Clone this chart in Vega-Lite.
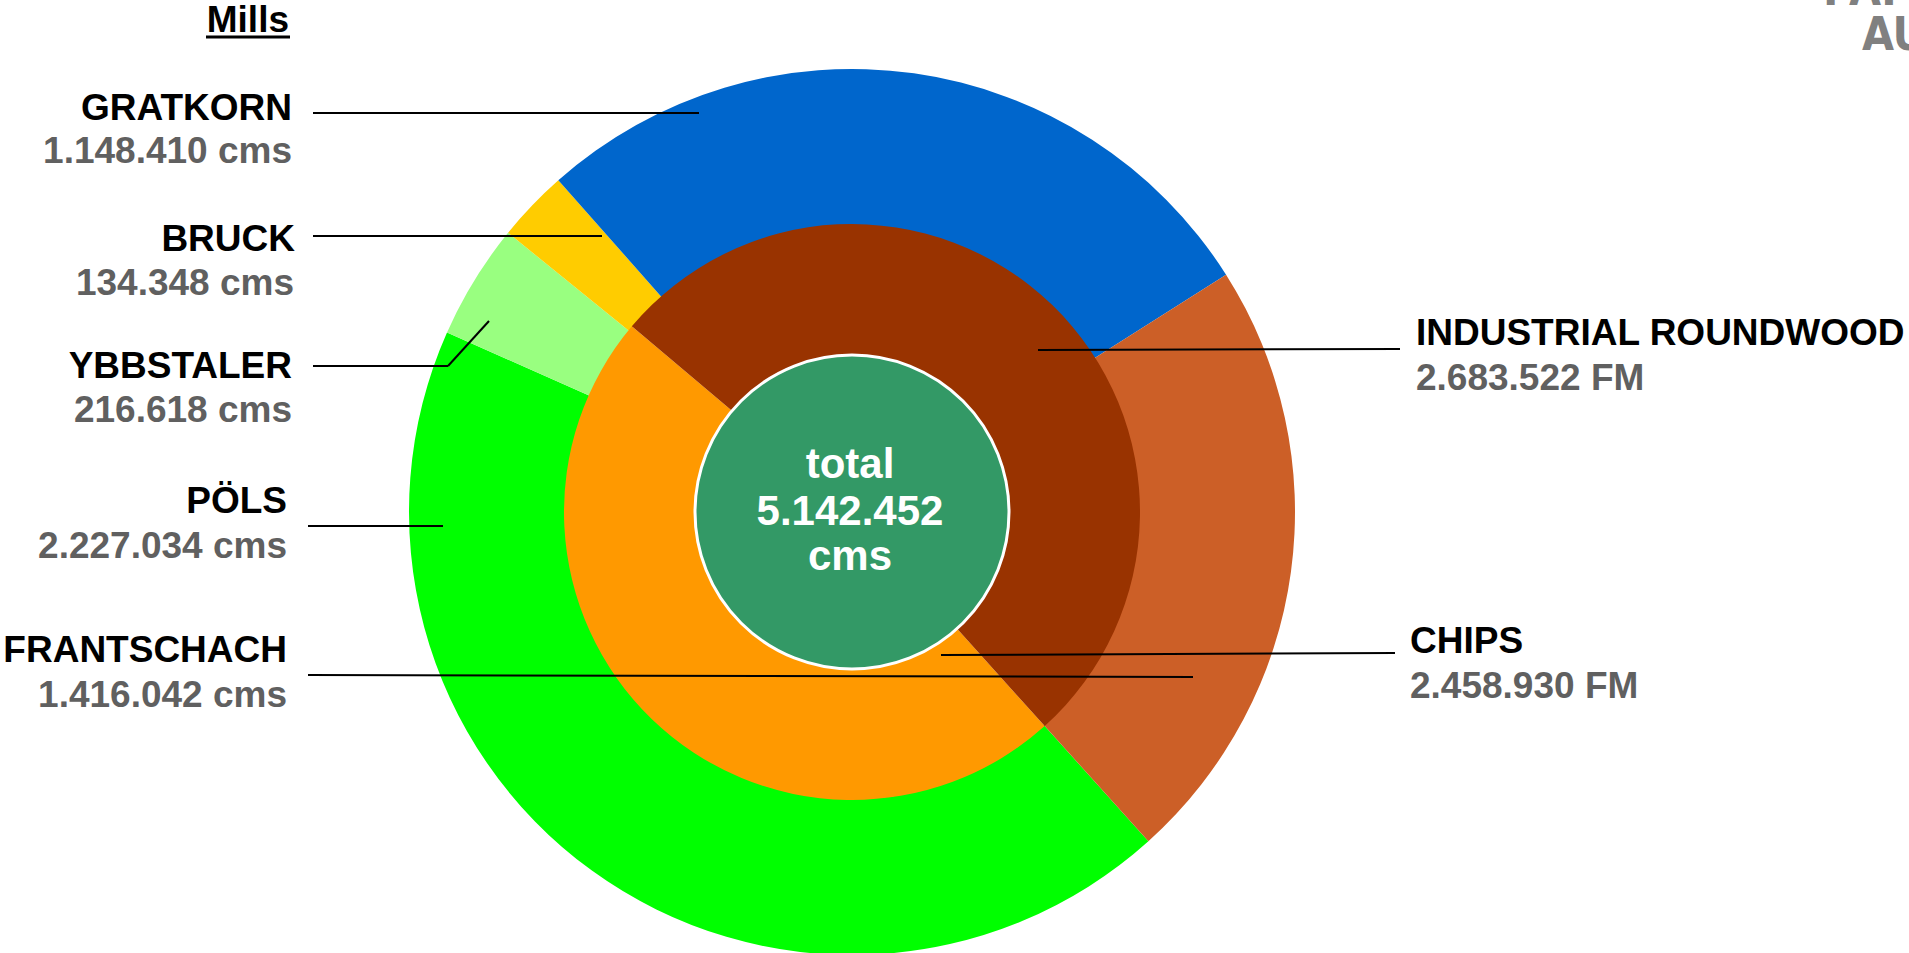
{
  "$schema": "https://vega.github.io/schema/vega-lite/v6.json",
  "width": 1909,
  "height": 953,
  "autosize": "none",
  "padding": 0,
  "background": "white",
  "config": {
    "view": {"stroke": null},
    "text": {"font": "Liberation Sans", "fontWeight": "bold", "fontSize": 37, "baseline": "alphabetic"}
  },
  "datasets": {
    "mills": [
      {"mill": "PÖLS", "cms": 2227034, "amount": "2.227.034 cms", "seq": 1},
      {"mill": "YBBSTALER", "cms": 216618, "amount": "216.618 cms", "seq": 2},
      {"mill": "BRUCK", "cms": 134348, "amount": "134.348 cms", "seq": 3},
      {"mill": "FRANTSCHACH", "cms": 1416042, "amount": "1.416.042 cms", "seq": 4},
      {"mill": "GRATKORN", "cms": 1148410, "amount": "1.148.410 cms", "seq": 5}
    ],
    "types": [
      {"kind": "CHIPS", "fm": 2458930, "amount": "2.458.930 FM", "seq": 1},
      {"kind": "INDUSTRIAL ROUNDWOOD", "fm": 2683522, "amount": "2.683.522 FM", "seq": 2}
    ],
    "summary": [
      {"caption": "total", "total": "5.142.452", "unit": "cms", "heading": "Mills", "brand1": "PAPIER", "brand2": "AUSTRIA"}
    ]
  },
  "resolve": {"scale": {"theta": "independent", "color": "independent"}},
  "layer": [
    {
      "data": {"name": "mills"},
      "mark": {"type": "arc", "outerRadius": 443, "innerRadius": 287},
      "encoding": {
        "theta": {"field": "cms", "type": "quantitative", "stack": true, "scale": {"range": [2.4086, 8.6918]}},
        "order": {"field": "seq", "type": "quantitative"},
        "color": {"field": "mill", "type": "nominal", "legend": null,
          "scale": {"domain": ["PÖLS", "YBBSTALER", "BRUCK", "FRANTSCHACH", "GRATKORN"],
                    "range": ["#00FF00", "#99FF80", "#FFCC00", "#0066CC", "#CC5F27"]}},
        "x": {"datum": 852, "type": "quantitative", "scale": {"domain": [0, 1909], "nice": false, "zero": false}, "axis": null},
        "y": {"datum": 512, "type": "quantitative", "scale": {"domain": [0, 953], "nice": false, "zero": false, "reverse": true}, "axis": null}
      }
    },
    {
      "data": {"name": "types"},
      "mark": {"type": "arc", "outerRadius": 288, "innerRadius": 140},
      "encoding": {
        "theta": {"field": "fm", "type": "quantitative", "stack": true, "scale": {"range": [2.4086, 8.6918]}},
        "order": {"field": "seq", "type": "quantitative"},
        "color": {"field": "kind", "type": "nominal", "legend": null,
          "scale": {"domain": ["CHIPS", "INDUSTRIAL ROUNDWOOD"], "range": ["#FF9900", "#993300"]}},
        "x": {"datum": 852, "type": "quantitative"},
        "y": {"datum": 512, "type": "quantitative"}
      }
    },
    {
      "data": {"name": "summary"},
      "mark": {"type": "circle", "size": 98596, "color": "#339966", "opacity": 1, "stroke": "white", "strokeWidth": 3},
      "encoding": {"x": {"datum": 852, "type": "quantitative"}, "y": {"datum": 512, "type": "quantitative"}}
    },
    {
      "data": {"name": "summary"},
      "mark": {"type": "text", "align": "center", "color": "white", "fontSize": 42},
      "encoding": {"x": {"datum": 850, "type": "quantitative"}, "y": {"datum": 478, "type": "quantitative"}, "text": {"field": "caption"}}
    },
    {
      "data": {"name": "summary"},
      "mark": {"type": "text", "align": "center", "color": "white", "fontSize": 42},
      "encoding": {"x": {"datum": 850, "type": "quantitative"}, "y": {"datum": 525, "type": "quantitative"}, "text": {"field": "total"}}
    },
    {
      "data": {"name": "summary"},
      "mark": {"type": "text", "align": "center", "color": "white", "fontSize": 42},
      "encoding": {"x": {"datum": 850, "type": "quantitative"}, "y": {"datum": 570, "type": "quantitative"}, "text": {"field": "unit"}}
    },
    {
      "data": {"name": "summary"},
      "mark": {"type": "text", "align": "right", "color": "black"},
      "encoding": {"x": {"datum": 289, "type": "quantitative"}, "y": {"datum": 32, "type": "quantitative"}, "text": {"field": "heading"}}
    },
    {
      "data": {"name": "summary"},
      "mark": {"type": "rule", "color": "black", "strokeWidth": 3},
      "encoding": {"x": {"datum": 206, "type": "quantitative"}, "x2": {"datum": 290}, "y": {"datum": 37, "type": "quantitative"}, "y2": {"datum": 37}}
    },
    {
      "data": {"name": "summary"},
      "mark": {"type": "text", "align": "left", "color": "#808080", "fontSize": 46, "font": "Liberation Sans Narrow, DejaVu Sans Condensed, Liberation Sans"},
      "encoding": {"x": {"datum": 1823, "type": "quantitative"}, "y": {"datum": 5, "type": "quantitative"}, "text": {"field": "brand1"}}
    },
    {
      "data": {"name": "summary"},
      "mark": {"type": "text", "align": "left", "color": "#808080", "fontSize": 46, "font": "Liberation Sans Narrow, DejaVu Sans Condensed, Liberation Sans"},
      "encoding": {"x": {"datum": 1862, "type": "quantitative"}, "y": {"datum": 50, "type": "quantitative"}, "text": {"field": "brand2"}}
    },
    {
      "data": {"name": "mills"}, "transform": [{"filter": "datum.mill === 'GRATKORN'"}],
      "layer": [
        {"mark": {"type": "text", "align": "right", "color": "black"},
         "encoding": {"x": {"datum": 292, "type": "quantitative"}, "y": {"datum": 120, "type": "quantitative"}, "text": {"field": "mill"}}},
        {"mark": {"type": "text", "align": "right", "color": "#606060"},
         "encoding": {"x": {"datum": 292, "type": "quantitative"}, "y": {"datum": 163, "type": "quantitative"}, "text": {"field": "amount"}}},
        {"mark": {"type": "rule", "color": "black", "strokeWidth": 2},
         "encoding": {"x": {"datum": 313, "type": "quantitative"}, "x2": {"datum": 699}, "y": {"datum": 113, "type": "quantitative"}, "y2": {"datum": 113}}}
      ]
    },
    {
      "data": {"name": "mills"}, "transform": [{"filter": "datum.mill === 'BRUCK'"}],
      "layer": [
        {"mark": {"type": "text", "align": "right", "color": "black"},
         "encoding": {"x": {"datum": 295, "type": "quantitative"}, "y": {"datum": 251, "type": "quantitative"}, "text": {"field": "mill"}}},
        {"mark": {"type": "text", "align": "right", "color": "#606060"},
         "encoding": {"x": {"datum": 294, "type": "quantitative"}, "y": {"datum": 295, "type": "quantitative"}, "text": {"field": "amount"}}},
        {"mark": {"type": "rule", "color": "black", "strokeWidth": 2},
         "encoding": {"x": {"datum": 313, "type": "quantitative"}, "x2": {"datum": 602}, "y": {"datum": 236, "type": "quantitative"}, "y2": {"datum": 236}}}
      ]
    },
    {
      "data": {"name": "mills"}, "transform": [{"filter": "datum.mill === 'YBBSTALER'"}],
      "layer": [
        {"mark": {"type": "text", "align": "right", "color": "black"},
         "encoding": {"x": {"datum": 292, "type": "quantitative"}, "y": {"datum": 378, "type": "quantitative"}, "text": {"field": "mill"}}},
        {"mark": {"type": "text", "align": "right", "color": "#606060"},
         "encoding": {"x": {"datum": 292, "type": "quantitative"}, "y": {"datum": 422, "type": "quantitative"}, "text": {"field": "amount"}}},
        {"mark": {"type": "rule", "color": "black", "strokeWidth": 2},
         "encoding": {"x": {"datum": 313, "type": "quantitative"}, "x2": {"datum": 448}, "y": {"datum": 366, "type": "quantitative"}, "y2": {"datum": 366}}},
        {"mark": {"type": "rule", "color": "black", "strokeWidth": 2},
         "encoding": {"x": {"datum": 448, "type": "quantitative"}, "x2": {"datum": 489}, "y": {"datum": 366, "type": "quantitative"}, "y2": {"datum": 321}}}
      ]
    },
    {
      "data": {"name": "mills"}, "transform": [{"filter": "datum.mill === 'PÖLS'"}],
      "layer": [
        {"mark": {"type": "text", "align": "right", "color": "black"},
         "encoding": {"x": {"datum": 287, "type": "quantitative"}, "y": {"datum": 513, "type": "quantitative"}, "text": {"field": "mill"}}},
        {"mark": {"type": "text", "align": "right", "color": "#606060"},
         "encoding": {"x": {"datum": 287, "type": "quantitative"}, "y": {"datum": 558, "type": "quantitative"}, "text": {"field": "amount"}}},
        {"mark": {"type": "rule", "color": "black", "strokeWidth": 2},
         "encoding": {"x": {"datum": 308, "type": "quantitative"}, "x2": {"datum": 443}, "y": {"datum": 526, "type": "quantitative"}, "y2": {"datum": 526}}}
      ]
    },
    {
      "data": {"name": "mills"}, "transform": [{"filter": "datum.mill === 'FRANTSCHACH'"}],
      "layer": [
        {"mark": {"type": "text", "align": "right", "color": "black"},
         "encoding": {"x": {"datum": 287, "type": "quantitative"}, "y": {"datum": 662, "type": "quantitative"}, "text": {"field": "mill"}}},
        {"mark": {"type": "text", "align": "right", "color": "#606060"},
         "encoding": {"x": {"datum": 287, "type": "quantitative"}, "y": {"datum": 707, "type": "quantitative"}, "text": {"field": "amount"}}},
        {"mark": {"type": "rule", "color": "black", "strokeWidth": 2},
         "encoding": {"x": {"datum": 308, "type": "quantitative"}, "x2": {"datum": 1193}, "y": {"datum": 675, "type": "quantitative"}, "y2": {"datum": 677}}}
      ]
    },
    {
      "data": {"name": "types"}, "transform": [{"filter": "datum.kind === 'INDUSTRIAL ROUNDWOOD'"}],
      "layer": [
        {"mark": {"type": "text", "align": "left", "color": "black"},
         "encoding": {"x": {"datum": 1416, "type": "quantitative"}, "y": {"datum": 345, "type": "quantitative"}, "text": {"field": "kind"}}},
        {"mark": {"type": "text", "align": "left", "color": "#606060"},
         "encoding": {"x": {"datum": 1416, "type": "quantitative"}, "y": {"datum": 390, "type": "quantitative"}, "text": {"field": "amount"}}},
        {"mark": {"type": "rule", "color": "black", "strokeWidth": 2},
         "encoding": {"x": {"datum": 1038, "type": "quantitative"}, "x2": {"datum": 1400}, "y": {"datum": 350, "type": "quantitative"}, "y2": {"datum": 349}}}
      ]
    },
    {
      "data": {"name": "types"}, "transform": [{"filter": "datum.kind === 'CHIPS'"}],
      "layer": [
        {"mark": {"type": "text", "align": "left", "color": "black"},
         "encoding": {"x": {"datum": 1410, "type": "quantitative"}, "y": {"datum": 653, "type": "quantitative"}, "text": {"field": "kind"}}},
        {"mark": {"type": "text", "align": "left", "color": "#606060"},
         "encoding": {"x": {"datum": 1410, "type": "quantitative"}, "y": {"datum": 698, "type": "quantitative"}, "text": {"field": "amount"}}},
        {"mark": {"type": "rule", "color": "black", "strokeWidth": 2},
         "encoding": {"x": {"datum": 941, "type": "quantitative"}, "x2": {"datum": 1395}, "y": {"datum": 655, "type": "quantitative"}, "y2": {"datum": 653}}}
      ]
    }
  ]
}
